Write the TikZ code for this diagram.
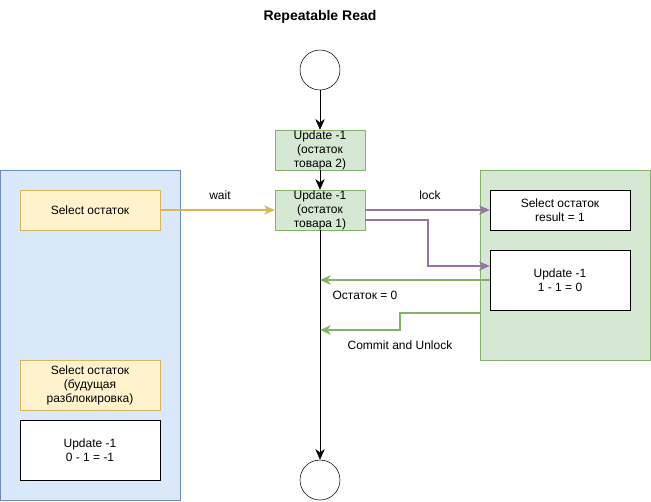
\documentclass[tikz,border=0pt]{standalone}
\usepackage{fontspec}
\setmainfont{Liberation Sans}
\usetikzlibrary{arrows.meta,calc}
\definecolor{bluefill}{HTML}{DAE8FC}
\definecolor{bluedraw}{HTML}{6C8EBF}
\definecolor{greenfill}{HTML}{D5E8D4}
\definecolor{greendraw}{HTML}{82B366}
\definecolor{yellowfill}{HTML}{FFF2CC}
\definecolor{yellowdraw}{HTML}{D6B656}
\definecolor{purpledraw}{HTML}{9673A6}
\tikzset{
  box/.style={draw, rectangle, inner sep=0pt, align=center, font=\fontsize{9}{10.5}\selectfont},
  pane/.style={draw, rectangle, inner sep=0pt},
  state/.style={draw, circle, minimum size=30pt, inner sep=0pt},
  flow/.style={-{Stealth[length=8pt,width=7pt,inset=2.5pt]}},
  lbl/.style={font=\fontsize{9}{10.5}\selectfont}
}
\begin{document}
\begin{tikzpicture}[x=0.75pt,y=-0.75pt]
\useasboundingbox (0,0) rectangle (651,501);
\node[font=\bfseries\fontsize{10.5}{12}\selectfont] (title) at (320,17) {Repeatable Read};

\node[pane, fill=bluefill, draw=bluedraw, minimum width=135pt, minimum height=247.5pt] (blue) at (90,335) {};
\node[pane, fill=greenfill, draw=greendraw, minimum width=127.5pt, minimum height=142.5pt] (grn) at (565,265) {};

\node[state] (start) at (320,70) {};
\node[state] (end) at (320,480) {};
\node[box, fill=greenfill, draw=greendraw, minimum width=67.5pt, minimum height=30pt] (u2) at (320,150) {Update -1\\(остаток\\товара 2)};
\node[box, fill=greenfill, draw=greendraw, minimum width=67.5pt, minimum height=30pt] (u1) at (320,210) {Update -1\\(остаток\\товара 1)};
\node[box, fill=yellowfill, draw=yellowdraw, minimum width=105pt, minimum height=30pt] (sel1) at (90,210) {Select остаток};
\node[box, fill=yellowfill, draw=yellowdraw, minimum width=105pt, minimum height=37.5pt] (sel2) at (90,385) {Select остаток\\(будущая\\разблокировка)};
\node[box, fill=white, minimum width=105pt, minimum height=45pt] (upd3) at (90,450) {Update -1\\0 - 1 = -1};
\node[box, fill=white, minimum width=105pt, minimum height=30pt] (selr) at (560,210) {Select остаток\\result = 1};
\node[box, fill=white, minimum width=105pt, minimum height=45pt] (upd2) at (560,280) {Update -1\\1 - 1 = 0};

\coordinate (lockbend) at (428,266);
\coordinate (cmtbend) at (400,330);

\path[draw,flow] (start) -- (u2);
\path[draw,flow] (u2) -- (u1);
\path[draw,flow] (u1) -- (end);
\path[draw=yellowdraw,line width=1.5pt,flow] (sel1) -- (u1);
\path[draw=purpledraw,line width=1.5pt,flow] (u1.east) -- (selr.west);
\path[draw=purpledraw,line width=1.5pt,flow] ($(u1.east)+(0,10)$) -| (lockbend) -- (lockbend -| upd2.west);
\path[draw=greendraw,line width=1.5pt,flow] (upd2.west) -- (upd2.west -| u1.south);
\path[draw=greendraw,line width=1.5pt,flow] ($(grn.west)+(0,48)$) -| (cmtbend) -- (cmtbend -| u1.south);
\node[lbl] (waitlbl) at (220,195) {wait};
\node[lbl] (locklbl) at (430,195) {lock};
\node[lbl] (restlbl) at (365,295) {Остаток = 0};
\node[lbl] (cmtlbl) at (400,345) {Commit and Unlock};
\end{tikzpicture}
\end{document}
